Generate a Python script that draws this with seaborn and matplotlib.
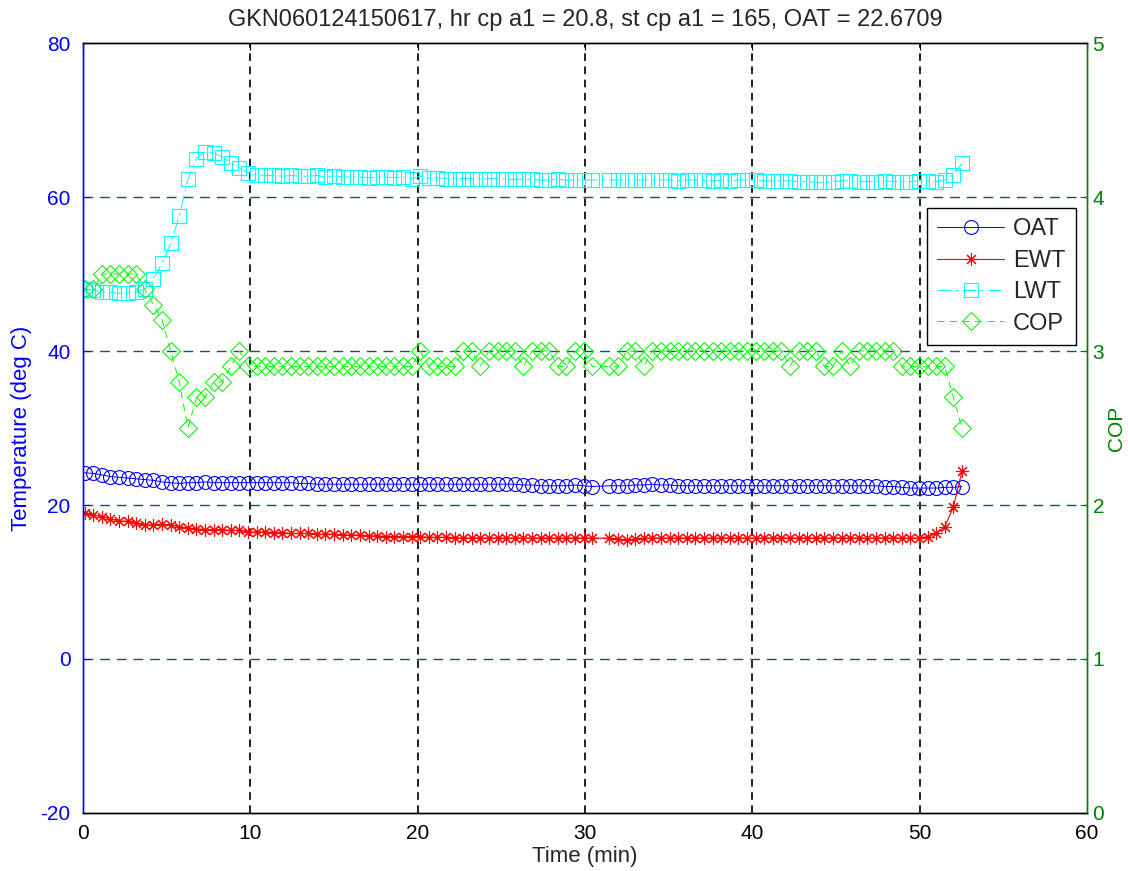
import matplotlib
matplotlib.use("Agg")
import matplotlib.pyplot as plt
import seaborn as sns

sns.set_style("white")
plt.rcParams['font.family'] = ['Liberation Sans', 'DejaVu Sans']
plt.rcParams['lines.scale_dashes'] = False
plt.rcParams['axes.unicode_minus'] = False

time_min = [0.10, 0.61, 1.13, 1.64, 2.16, 2.67, 3.18, 3.70, 4.21, 4.73,
            5.24, 5.75, 6.27, 6.78, 7.30, 7.81, 8.32, 8.84, 9.35, 9.87,
            10.38, 10.89, 11.41, 11.92, 12.44, 12.95, 13.46, 13.98, 14.49, 15.01,
            15.52, 16.03, 16.55, 17.06, 17.58, 18.09, 18.60, 19.12, 19.63, 20.15,
            20.66, 21.17, 21.69, 22.20, 22.72, 23.23, 23.74, 24.26, 24.77, 25.29,
            25.80, 26.31, 26.83, 27.34, 27.86, 28.37, 28.88, 29.40, 29.91, 30.43,
            31.45, 31.97, 32.48, 33.00, 33.51, 34.02, 34.54, 35.05, 35.57, 36.08,
            36.59, 37.11, 37.62, 38.14, 38.65, 39.16, 39.68, 40.19, 40.71, 41.22,
            41.73, 42.25, 42.76, 43.28, 43.79, 44.30, 44.82, 45.33, 45.85, 46.36,
            46.87, 47.39, 47.90, 48.42, 48.93, 49.44, 49.96, 50.47, 50.99, 51.50,
            52.01, 52.53]

oat = [24.2, 24.1, 23.9, 23.7, 23.6, 23.5, 23.4, 23.3, 23.2, 23.0,
       22.9, 22.8, 22.9, 22.9, 23.0, 22.9, 22.9, 22.9, 22.9, 22.9,
       22.9, 22.9, 22.9, 22.9, 22.9, 22.8, 22.8, 22.7, 22.7, 22.7,
       22.7, 22.7, 22.7, 22.7, 22.7, 22.7, 22.7, 22.7, 22.7, 22.7,
       22.7, 22.7, 22.7, 22.7, 22.7, 22.7, 22.7, 22.7, 22.7, 22.7,
       22.7, 22.6, 22.6, 22.5, 22.5, 22.5, 22.5, 22.6, 22.5, 22.4,
       22.5, 22.5, 22.5, 22.6, 22.6, 22.7, 22.6, 22.6, 22.5, 22.5,
       22.5, 22.5, 22.5, 22.5, 22.5, 22.5, 22.5, 22.5, 22.5, 22.5,
       22.5, 22.5, 22.5, 22.5, 22.5, 22.5, 22.5, 22.5, 22.5, 22.5,
       22.5, 22.5, 22.4, 22.4, 22.3, 22.2, 22.2, 22.2, 22.2, 22.3,
       22.3, 22.4]

ewt = [18.9, 18.7, 18.5, 18.2, 17.9, 17.9, 17.6, 17.4, 17.4, 17.5,
       17.4, 17.2, 17.0, 16.9, 16.8, 16.8, 16.8, 16.7, 16.7, 16.5,
       16.5, 16.5, 16.4, 16.4, 16.3, 16.3, 16.3, 16.2, 16.2, 16.2,
       16.1, 16.1, 16.1, 16.0, 16.0, 15.9, 15.9, 15.9, 15.9, 15.9,
       15.8, 15.8, 15.8, 15.7, 15.7, 15.7, 15.7, 15.7, 15.7, 15.7,
       15.7, 15.7, 15.7, 15.7, 15.7, 15.7, 15.7, 15.7, 15.7, 15.7,
       15.7, 15.6, 15.4, 15.6, 15.7, 15.7, 15.7, 15.7, 15.7, 15.7,
       15.7, 15.7, 15.7, 15.7, 15.7, 15.7, 15.7, 15.7, 15.7, 15.7,
       15.7, 15.7, 15.7, 15.7, 15.7, 15.7, 15.7, 15.7, 15.7, 15.7,
       15.7, 15.7, 15.7, 15.7, 15.7, 15.7, 15.7, 15.9, 16.3, 17.2,
       19.7, 24.4]

lwt = [48.1, 47.9, 47.7, 47.6, 47.5, 47.5, 47.6, 48.1, 49.4, 51.4,
       54.0, 57.5, 62.3, 65.0, 65.9, 65.7, 65.2, 64.4, 63.8, 63.1,
       62.9, 62.8, 62.8, 62.7, 62.8, 62.7, 62.7, 62.8, 62.6, 62.7,
       62.6, 62.6, 62.6, 62.5, 62.6, 62.6, 62.5, 62.6, 62.4, 62.7,
       62.5, 62.5, 62.4, 62.4, 62.4, 62.4, 62.3, 62.4, 62.4, 62.3,
       62.3, 62.3, 62.3, 62.2, 62.2, 62.3, 62.2, 62.2, 62.2, 62.2,
       62.2, 62.2, 62.2, 62.2, 62.2, 62.2, 62.2, 62.2, 62.1, 62.2,
       62.2, 62.2, 62.1, 62.2, 62.1, 62.2, 62.2, 62.2, 62.1, 62.1,
       62.1, 62.1, 62.0, 62.0, 61.9, 61.9, 62.0, 62.1, 62.1, 62.0,
       62.0, 62.0, 62.1, 62.0, 62.0, 62.0, 62.1, 62.1, 62.0, 62.2,
       62.9, 64.4]

cop = [3.4, 3.4, 3.5, 3.5, 3.5, 3.5, 3.5, 3.4, 3.3, 3.2,
       3.0, 2.8, 2.5, 2.7, 2.7, 2.8, 2.8, 2.9, 3.0, 2.9,
       2.9, 2.9, 2.9, 2.9, 2.9, 2.9, 2.9, 2.9, 2.9, 2.9,
       2.9, 2.9, 2.9, 2.9, 2.9, 2.9, 2.9, 2.9, 2.9, 3.0,
       2.9, 2.9, 2.9, 2.9, 3.0, 3.0, 2.9, 3.0, 3.0, 3.0,
       3.0, 2.9, 3.0, 3.0, 3.0, 2.9, 2.9, 3.0, 3.0, 2.9,
       2.9, 2.9, 3.0, 3.0, 2.9, 3.0, 3.0, 3.0, 3.0, 3.0,
       3.0, 3.0, 3.0, 3.0, 3.0, 3.0, 3.0, 3.0, 3.0, 3.0,
       3.0, 2.9, 3.0, 3.0, 3.0, 2.9, 2.9, 3.0, 2.9, 3.0,
       3.0, 3.0, 3.0, 3.0, 2.9, 2.9, 2.9, 2.9, 2.9, 2.9,
       2.7, 2.5]

title = "GKN060124150617, hr cp a1 = 20.8, st cp a1 = 165, OAT = 22.6709"
x_ticks = [0, 10, 20, 30, 40, 50, 60]
t_ticks = [-20, 0, 20, 40, 60, 80]
cop_ticks = [0, 1, 2, 3, 4, 5]

BLUE = (0, 0, 1)
RED = (1, 0, 0)
CYAN = (0, 1, 1)
GREEN = (0, 1, 0)
DKGREEN = (0, 0.5, 0)

fig = plt.figure(figsize=(11.28, 8.71), dpi=100)
fig.subplots_adjust(left=0.0736, right=0.9637, bottom=0.0666, top=0.9506)
ax = fig.add_subplot(111)
ax2 = ax.twinx()

common = dict(estimator=None, sort=False, legend=False)
sns.lineplot(x=time_min, y=oat, ax=ax, color=BLUE, marker='o', markersize=10,
             markerfacecolor='none', markeredgecolor=BLUE, markeredgewidth=0.8,
             linewidth=0.7, **common)
h_oat = ax.lines[-1]
sns.lineplot(x=time_min, y=ewt, ax=ax, color=RED, marker=(8, 2, 0), markersize=9,
             markeredgecolor=RED, markeredgewidth=0.8, linewidth=0.8, **common)
h_ewt = ax.lines[-1]
h_ewt.set_color(RED)
h_ewt.set_markeredgecolor(RED)
sns.lineplot(x=time_min, y=lwt, ax=ax, color=CYAN, marker='s', markersize=10,
             markerfacecolor='none', markeredgecolor=CYAN, markeredgewidth=0.8,
             linewidth=0.7, linestyle=(0, (10, 3, 2, 3)), **common)
h_lwt = ax.lines[-1]
sns.lineplot(x=time_min, y=cop, ax=ax2, color=GREEN, marker='D', markersize=9,
             markerfacecolor='none', markeredgecolor=GREEN, markeredgewidth=0.8,
             linewidth=0.7, linestyle=(0, (5, 4)), **common)
h_cop = ax2.lines[-1]

ax.set_xlim(0, 60)
ax.set_ylim(-20, 80)
ax2.set_ylim(0, 5)
ax.set_xticks(x_ticks)
ax.set_yticks(t_ticks)
ax2.set_yticks(cop_ticks)

ax.grid(False)
ax2.grid(False)
for xv in x_ticks[1:-1]:
    ax.axvline(xv, color='#202020', lw=1.4, linestyle=(0, (5.5, 4)), zorder=0.5)
for yv in t_ticks[1:-1]:
    ax.axhline(yv, color=(0.12, 0.3, 0.38), lw=1.0, linestyle=(0, (7, 5)), zorder=0.5)

fs_tick = 15
fs_lab = 16
ax.tick_params(axis='x', colors='black', labelsize=fs_tick, direction='in', top=True,
               length=5, pad=8)
ax.tick_params(axis='y', colors=BLUE, labelsize=fs_tick, direction='in', length=5, pad=9)
ax2.tick_params(axis='y', colors=DKGREEN, labelsize=fs_tick, direction='in', length=5, pad=4)
for a in (ax, ax2):
    a.spines['top'].set_color('black')
    a.spines['bottom'].set_color('black')
    a.spines['left'].set_color(BLUE)
    a.spines['right'].set_color(DKGREEN)
    for s in a.spines.values():
        s.set_linewidth(1.0)

ax.set_xlabel("Time (min)", fontsize=fs_lab, labelpad=2)
ax.set_ylabel("Temperature (deg C)", fontsize=fs_lab, color=BLUE, labelpad=6)
ax2.set_ylabel("COP", fontsize=15, color=DKGREEN, labelpad=2)
ax.set_title(title, fontsize=17, pad=12)

leg = ax2.legend([h_oat, h_ewt, h_lwt, h_cop], ["OAT", "EWT", "LWT", "COP"],
                 loc='upper right', bbox_to_anchor=(0.989, 0.786), borderaxespad=0,
                 fontsize=17, frameon=True, fancybox=False, handlelength=2.8,
                 labelspacing=0.4, borderpad=0.45, handletextpad=0.4)
leg.get_frame().set_edgecolor('black')
leg.get_frame().set_linewidth(1.0)
leg.get_frame().set_alpha(1)

fig.savefig("out.png", dpi=100, facecolor='white')
